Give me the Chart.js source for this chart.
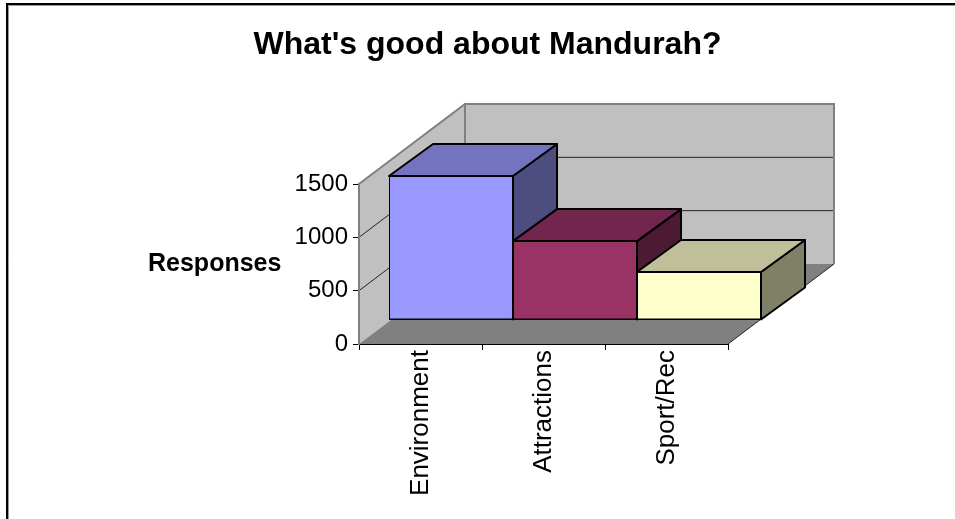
<!DOCTYPE html>
<html>
<head>
<meta charset="utf-8">
<style>
  html, body { margin: 0; padding: 0; background: #fff; }
  canvas { display: block; }
</style>
<script src="https://cdn.jsdelivr.net/npm/chart.js@4"></script>
</head>
<body>
<div style="width:955px;height:519px;position:relative"><canvas id="chart"></canvas></div>
<script>
const categories = ["Environment", "Attractions", "Sport/Rec"];
const responses = [1350, 740, 450];
const yTicks = [0, 500, 1000, 1500];
const faceColors = ["#9999FF", "#993366", "#FFFFCC"];
const topColors = ["#7373BF", "#73264D", "#BFBF99"];
const sideColors = ["#4D4D80", "#4D1A33", "#808066"];

const FONT = '"Liberation Sans", Arial, sans-serif';

// depth of the floor and how far in the bars stand
const DEPTH = { x: 106, y: -80 };
const BAR_SHIFT = { x: 30, y: -24 };
const BAR_DEPTH = { x: 44, y: -32 };
const BAR_STRETCH = 372 / 369;

function poly(ctx, pts, fill, stroke, lw) {
  ctx.beginPath();
  pts.forEach((p, i) => (i ? ctx.lineTo(p[0], p[1]) : ctx.moveTo(p[0], p[1])));
  ctx.closePath();
  if (fill) { ctx.fillStyle = fill; ctx.fill(); }
  if (stroke) { ctx.strokeStyle = stroke; ctx.lineWidth = lw; ctx.stroke(); }
}

// same mapping the bars get, front plane to bar plane
function barX(area, x) { return area.left + BAR_SHIFT.x + (x - area.left) * BAR_STRETCH; }

const box3d = {
  id: "box3d",
  beforeDraw(chart) {
    const ctx = chart.ctx;
    const a = chart.chartArea;
    const y = chart.scales.y;
    ctx.save();
    ctx.lineJoin = "miter";
    const dx = DEPTH.x, dy = DEPTH.y;
    // outer frame, only top and left are in the picture
    ctx.strokeStyle = "#999";
    ctx.lineWidth = 1;
    ctx.beginPath();
    ctx.moveTo(8.5, 519);
    ctx.lineTo(8.5, 5.5);
    ctx.lineTo(955, 5.5);
    ctx.stroke();
    ctx.strokeStyle = "#000";
    ctx.lineWidth = 2;
    ctx.beginPath();
    ctx.moveTo(7, 519);
    ctx.lineTo(7, 4);
    ctx.lineTo(955, 4);
    ctx.stroke();
    // walls and floor
    poly(ctx, [[a.left + dx, a.top + dy], [a.right + dx, a.top + dy], [a.right + dx, a.bottom + dy], [a.left + dx, a.bottom + dy]], "#C0C0C0");
    poly(ctx, [[a.left, a.top], [a.left + dx, a.top + dy], [a.left + dx, a.bottom + dy], [a.left, a.bottom]], "#C0C0C0");
    // grid lines round left and back wall
    yTicks.slice(1, -1).forEach(v => {
      const py = y.getPixelForValue(v);
      ctx.beginPath();
      ctx.moveTo(a.left, py);
      ctx.lineTo(a.left + dx, py + dy);
      ctx.lineTo(a.right + dx, py + dy);
      ctx.strokeStyle = "#222";
      ctx.lineWidth = 1;
      ctx.stroke();
    });
    // wall edges
    ctx.strokeStyle = "#808080";
    ctx.lineWidth = 2;
    ctx.beginPath();
    ctx.moveTo(a.left, a.bottom);
    ctx.lineTo(a.left, a.top);
    ctx.lineTo(a.left + dx, a.top + dy);
    ctx.lineTo(a.right + dx, a.top + dy);
    ctx.lineTo(a.right + dx, a.bottom + dy);
    ctx.moveTo(a.left + dx, a.top + dy);
    ctx.lineTo(a.left + dx, a.bottom + dy);
    ctx.stroke();
    poly(ctx, [[a.left, a.bottom], [a.left + dx, a.bottom + dy], [a.right + dx, a.bottom + dy], [a.right, a.bottom]], "#808080");
    ctx.strokeStyle = "#222";
    ctx.lineWidth = 1;
    ctx.beginPath();
    ctx.moveTo(a.right, a.bottom);
    ctx.lineTo(a.right + dx, a.bottom + dy);
    ctx.stroke();
    ctx.restore();
  },
  beforeDatasetsDraw(chart) {
    const ctx = chart.ctx;
    const a = chart.chartArea;
    const meta = chart.getDatasetMeta(0);
    const dx = BAR_DEPTH.x, dy = BAR_DEPTH.y;
    ctx.save();
    ctx.lineJoin = "round";
    meta.data.forEach((bar, i) => {
      const p = bar.getProps(["x", "y", "base", "width"], true);
      const l = barX(a, p.x - p.width / 2);
      const r = barX(a, p.x + p.width / 2);
      const t = p.y + BAR_SHIFT.y;
      const b = p.base + BAR_SHIFT.y;
      poly(ctx, [[r, t], [r + dx, t + dy], [r + dx, b + dy], [r, b]], sideColors[i], "#000", 2);
      poly(ctx, [[l, t], [l + dx, t + dy], [r + dx, t + dy], [r, t]], topColors[i], "#000", 2);
    });
    ctx.restore();
    // fronts are drawn by chart.js on the shifted plane
    ctx.save();
    ctx.translate(a.left + BAR_SHIFT.x, BAR_SHIFT.y);
    ctx.scale(BAR_STRETCH, 1);
    ctx.translate(-a.left, 0);
  },
  afterDatasetsDraw(chart) {
    chart.ctx.restore();
  },
  afterDraw(chart) {
    const ctx = chart.ctx;
    ctx.save();
    ctx.fillStyle = "#000";
    ctx.font = "bold 25px " + FONT;
    ctx.textAlign = "left";
    ctx.textBaseline = "middle";
    ctx.fillText("Responses", 148, 264);
    ctx.restore();
  }
};

new Chart(document.getElementById("chart"), {
  type: "bar",
  plugins: [box3d],
  data: {
    labels: categories,
    datasets: [{
      data: responses,
      backgroundColor: faceColors,
      borderColor: "#000",
      borderWidth: 2,
      borderSkipped: false,
      inflateAmount: 1,
      barPercentage: 1,
      categoryPercentage: 1,
    }],
  },
  options: {
    responsive: true,
    maintainAspectRatio: false,
    animation: false,
    layout: { padding: { left: 247, right: 227, top: 0, bottom: 25 } },
    plugins: {
      legend: { display: false },
      tooltip: { enabled: false },
      title: {
        display: true,
        text: "What's good about Mandurah?",
        color: "#000",
        font: { family: FONT, size: 32, weight: "bold", lineHeight: 1.2 },
        padding: { top: 26, bottom: 119.6 },
      },
    },
    scales: {
      x: {
        afterFit(scale) { scale.height = 150; },
        border: { color: "#000", width: 1 },
        grid: { drawOnChartArea: false, color: "#000", tickLength: 6 },
        ticks: {
          autoSkip: false,
          minRotation: 90,
          maxRotation: 90,
          padding: 0,
          color: "#000",
          font: { family: FONT, size: 26 },
        },
      },
      y: {
        min: 0,
        max: 1500,
        afterFit(scale) { scale.width = 112; },
        afterBuildTicks(scale) { scale.ticks = yTicks.map(v => ({ value: v })); },
        border: { color: "#808080", width: 2 },
        grid: { drawOnChartArea: false, color: "#000", tickLength: 6 },
        ticks: {
          padding: 5,
          color: "#000",
          font: { family: FONT, size: 24 },
          callback: v => String(v),
        },
      },
    },
  },
});
</script>
</body>
</html>
